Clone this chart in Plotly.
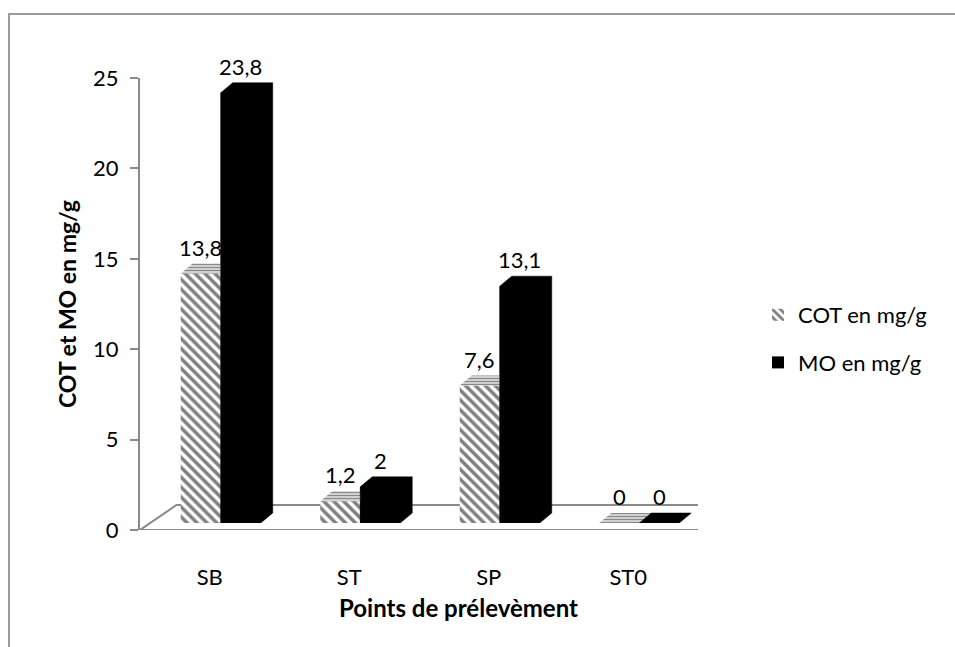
import plotly.graph_objects as go

# Sampling points and measured contents (mg/g)
categories = ["SB", "ST", "SP", "ST0"]
cot_values = [13.8, 1.2, 7.6, 0]
mo_values = [23.8, 2, 13.1, 0]
y_ticks = [0, 5, 10, 15, 20, 25]

W, H = 955, 647
FONT = "Lato, Calibri, Carlito, sans-serif"
GRID_GRAY = "#8a8a8a"
TXT = 22

# front plane (axis + floor) in pixels
X0, X1 = 140, 698
Y0, Y1 = 530, 78
# bars sit slightly deeper than the front edge of the floor
SHIFT_X, SHIFT_Y = 11, 7
PX_PER_CAT = (X1 - X0) / len(categories)
PX_PER_UNIT = (Y0 - Y1) / (y_ticks[-1] - y_ticks[0])

BAR_W = 40 / PX_PER_CAT          # width of one bar face, in category units
DEPTH_X = 12 / PX_PER_CAT        # bar depth, horizontal component
DEPTH_Y = 10 / PX_PER_UNIT       # bar depth, vertical component
FLOOR_DX = 36.5 / PX_PER_CAT
FLOOR_DY = 25 / PX_PER_UNIT


def fx(px):
    return px / W


def fy(px):
    return 1 - px / H


def fmt(v):
    return f"{v:g}".replace(".", ",")


pos = list(range(len(categories)))
xr = [-0.5, len(categories) - 0.5]
yr = [y_ticks[0], y_ticks[-1]]

fig = go.Figure()

# floor of the 3-D plot area
fx_floor = [xr[0], xr[1], xr[1] + FLOOR_DX, xr[0] + FLOOR_DX, xr[0]]
fy_floor = [0, 0, FLOOR_DY, FLOOR_DY, 0]
fig.add_trace(go.Scatter(x=fx_floor, y=fy_floor, mode="lines",
                         line=dict(color=GRID_GRAY, width=2),
                         fill="toself", fillcolor="white",
                         hoverinfo="skip", showlegend=False,
                         cliponaxis=False, xaxis="x", yaxis="y"))

# front faces
fig.add_trace(go.Bar(x=pos, y=cot_values, name="COT en mg/g",
                     width=BAR_W, offset=-BAR_W,
                     marker=dict(color="white", line=dict(width=0),
                                 pattern=dict(shape="\\", fgcolor="black",
                                              bgcolor="white", size=7,
                                              solidity=0.5)),
                     legendgroup="cot", xaxis="x2", yaxis="y2"))
fig.add_trace(go.Bar(x=pos, y=mo_values, name="MO en mg/g",
                     width=BAR_W, offset=0,
                     marker=dict(color="black", line=dict(width=0)),
                     legendgroup="mo", xaxis="x2", yaxis="y2"))

# top faces of COT bars
tx, ty = [], []
for i, v in zip(pos, cot_values):
    tx += [i - BAR_W, i, i + DEPTH_X, i - BAR_W + DEPTH_X, i - BAR_W, None]
    ty += [v, v, v + DEPTH_Y, v + DEPTH_Y, v, None]
fig.add_trace(go.Scatter(x=tx, y=ty, mode="lines", line=dict(width=0, color="#444"),
                         fill="toself", fillcolor="white",
                         fillpattern=dict(shape="-", fgcolor="#111", bgcolor="white",
                                          size=3, solidity=0.6),
                         hoverinfo="skip", showlegend=False,
                         cliponaxis=False, xaxis="x2", yaxis="y2"))

# full silhouette of MO bars (front, top and side faces in one solid shape)
mx, my = [], []
for i, v in zip(pos, mo_values):
    mx += [i, i + BAR_W, i + BAR_W + DEPTH_X, i + BAR_W + DEPTH_X, i + DEPTH_X, i, i, None]
    my += [0, 0, DEPTH_Y, v + DEPTH_Y, v + DEPTH_Y, v, 0, None]
fig.add_trace(go.Scatter(x=mx, y=my, mode="lines", line=dict(width=0.5, color="black"),
                         fill="toself", fillcolor="black",
                         hoverinfo="skip", showlegend=False,
                         cliponaxis=False, xaxis="x2", yaxis="y2"))

# value labels above each bar (on the back edge of the top face)
annotations = []
for values, side in ((cot_values, -0.5), (mo_values, 0.5)):
    for i, v in zip(pos, values):
        annotations.append(dict(
            x=i + side * BAR_W, y=v + DEPTH_Y, xref="x2", yref="y2",
            text=fmt(v), showarrow=False, xanchor="center", yanchor="bottom",
            yshift=1, font=dict(size=TXT, color="black")))

annotations += [
    dict(text="<b>COT et MO en mg/g</b>", textangle=-90,
         x=fx(67), y=fy(304), xref="paper", yref="paper",
         xanchor="center", yanchor="middle",
         showarrow=False, font=dict(size=23)),
    dict(text="<b>Points de prélevèment</b>",
         x=fx(458), y=fy(607), xref="paper", yref="paper",
         xanchor="center", yanchor="middle",
         showarrow=False, font=dict(size=24)),
]

fig.update_layout(
    width=W, height=H,
    margin=dict(l=0, r=0, t=0, b=0),
    paper_bgcolor="white", plot_bgcolor="rgba(0,0,0,0)",
    barmode="overlay",
    font=dict(family=FONT, size=TXT, color="black"),
    xaxis=dict(domain=[fx(X0), fx(X1)], range=xr,
               tickvals=pos, ticktext=categories,
               showgrid=False, zeroline=False, showline=False,
               ticks="", ticklabelstandoff=32, automargin=False,
               tickfont=dict(size=TXT)),
    yaxis=dict(domain=[fy(Y0), fy(Y1)], range=yr,
               tickvals=y_ticks, showgrid=False, zeroline=False,
               showline=True, linecolor=GRID_GRAY, linewidth=2,
               ticks="outside", ticklen=8, tickcolor=GRID_GRAY, tickwidth=2,
               ticklabelstandoff=7, automargin=False,
               tickfont=dict(size=TXT)),
    xaxis2=dict(domain=[fx(X0 + SHIFT_X), fx(X1 + SHIFT_X)], range=xr,
                visible=False, anchor="y2"),
    yaxis2=dict(domain=[fy(Y0 - SHIFT_Y), fy(Y1 - SHIFT_Y)], range=yr,
                visible=False, anchor="x2"),
    legend=dict(x=fx(758), y=fy(294), xanchor="left", yanchor="top",
                font=dict(size=TXT), tracegroupgap=16,
                bgcolor="rgba(0,0,0,0)"),
    annotations=annotations,
    shapes=[
        dict(type="rect", xref="paper", yref="paper",
             x0=fx(9), y0=fy(14), x1=fx(W + 20), y1=fy(H + 20),
             line=dict(color="#9a9a9a", width=2), fillcolor="rgba(0,0,0,0)"),
    ],
)

fig.write_html("out.html")
